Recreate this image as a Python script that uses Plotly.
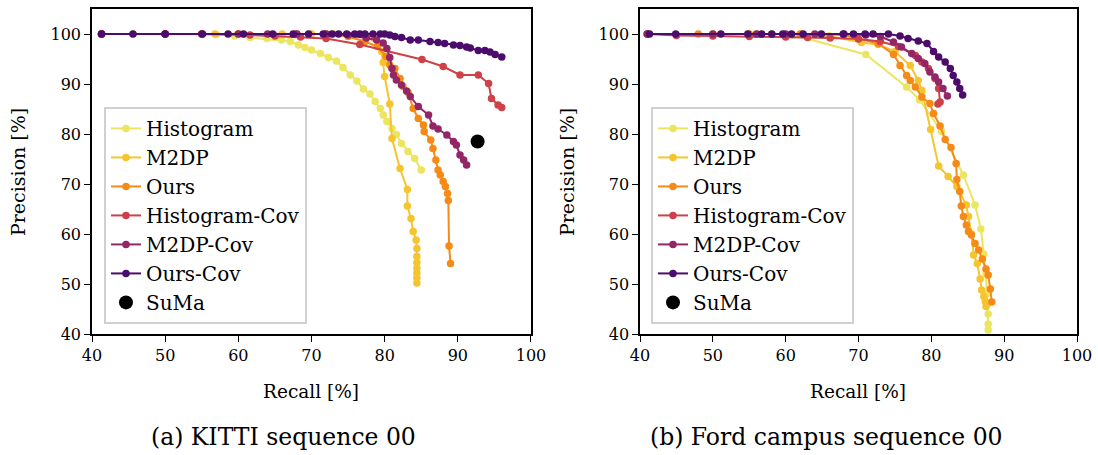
import plotly.graph_objects as go

# ---------------- data: KITTI sequence 00 ----------------
k_hist_x = [41.3, 45.6, 50, 55, 57, 59.5, 61.6, 63.9, 65.9, 67.1, 68.2, 69.1, 70.0, 71.2, 72.3, 73.4, 74.3, 75.3, 76.2, 77.1, 78.0, 78.7, 79.4, 79.8, 80.3, 81.0, 81.6, 82.3, 83.2, 84.1, 85.0]
k_hist_y = [100, 100, 100, 100, 99.9, 99.6, 99.3, 99.1, 98.8, 98.5, 97.8, 97.3, 96.8, 96.1, 95.3, 94.6, 93.3, 91.8, 90.6, 89.0, 88.0, 86.5, 85.1, 83.8, 82.5, 81.1, 79.9, 78.1, 76.5, 75.1, 72.8]

k_m2dp_x = [41.3, 50, 56.8, 60, 66, 70, 73, 76, 78.5, 79.6, 79.8, 80.0, 80.7, 81.0, 82.1, 83.1, 83.1, 83.6, 83.9, 84.3, 84.4, 84.4, 84.4, 84.4, 84.4, 84.4, 84.4]
k_m2dp_y = [100, 100, 100, 100, 100, 100, 100, 99.8, 99.2, 96.5, 94.3, 91.5, 86.0, 79.1, 73.1, 68.9, 65.6, 63.1, 60.5, 58.8, 57.1, 55.5, 54.3, 53.2, 52.2, 51.2, 50.2]

k_ours_x = [41.3, 50, 60, 68, 72, 75, 77.3, 79, 80.2, 80.7, 81.4, 82.1, 82.5, 83.2, 83.9, 84.6, 85.3, 85.4, 86.3, 86.6, 87.0, 87.3, 87.6, 88.0, 88.3, 88.6, 88.7, 88.8, 89.0]
k_ours_y = [100, 100, 100, 100, 100, 99.5, 98.5, 97.5, 95.5, 93.8, 93.1, 91.1, 89.5, 88.3, 85.1, 83.1, 81.8, 80.5, 78.8, 77.1, 74.8, 72.8, 71.8, 70.5, 69.5, 68.1, 66.7, 57.6, 54.1]

k_histcov_x = [41.3, 50, 55, 61.6, 65, 68.5, 72, 76.6, 85.1, 88.0, 90.3, 92.8, 94.2, 94.6, 95.5, 96.0]
k_histcov_y = [100, 100, 100, 99.8, 99.6, 99.4, 99.1, 97.9, 94.9, 93.5, 91.8, 91.8, 90.1, 87.1, 85.8, 85.3]

k_m2dpcov_x = [41.3, 50, 55, 60, 64, 68, 72, 75, 77.5, 78.9, 79.8, 80.3, 80.7, 81.0, 81.2, 81.6, 82.3, 83.0, 83.5, 84.6, 86.0, 86.6, 87.3, 88.5, 89.4, 89.8, 90.3, 90.8, 91.2]
k_m2dpcov_y = [100, 100, 100, 100, 100, 100, 100, 99.8, 99.2, 98.8, 98.2, 97.1, 95.3, 93.1, 91.8, 90.8, 89.8, 88.6, 87.5, 85.5, 83.8, 81.6, 81.0, 79.8, 78.5, 77.8, 75.8, 74.8, 73.8]

k_ourscov_x = [41.3, 45.6, 50.0, 55.1, 58.6, 60.7, 64.7, 67.5, 69.6, 71.6, 72.8, 73.7, 74.8, 75.9, 76.6, 77.3, 78.4, 79.4, 80.0, 80.7, 81.4, 82.3, 83.5, 84.6, 86.2, 87.3, 88.2, 89.4, 90.3, 91.2, 91.7, 92.8, 93.7, 94.4, 95.1, 96.0]
k_ourscov_y = [100, 100, 100, 100, 100, 100, 100, 100, 100, 100, 100, 100, 100, 100, 100, 100, 100, 100, 100, 99.8, 99.5, 99.3, 98.8, 98.8, 98.5, 98.3, 98.1, 97.8, 97.7, 97.4, 97.2, 96.7, 96.7, 96.4, 95.9, 95.4]

k_suma_x = [92.7]
k_suma_y = [78.5]

# ---------------- data: Ford campus sequence 00 ----------------
f_hist_x = [41.0, 50, 55, 58, 61.0, 71.0, 76.6, 78.4, 81.4, 84.4, 86.0, 86.8, 87.2, 87.5, 87.6, 87.7, 87.8, 87.8, 87.8]
f_hist_y = [100, 100, 100, 100, 99.8, 95.9, 89.4, 86.8, 80.5, 71.8, 65.8, 61.0, 56.0, 52.0, 48.0, 46.0, 44.0, 42.0, 40.8]

f_m2dp_x = [41.0, 50, 56, 62, 66, 70.4, 72.7, 75.0, 77.1, 78.2, 78.7, 79.9, 81.0, 82.3, 83.5, 84.8, 85.1, 85.5, 85.8, 86.3, 86.7, 86.9, 87.2, 87.4, 87.5]
f_m2dp_y = [100, 100, 100, 100, 99.6, 98.3, 97.9, 96.5, 93.7, 90.7, 88.7, 80.9, 73.6, 71.5, 69.5, 65.8, 63.5, 60.0, 55.8, 54.1, 51.0, 48.8, 47.5, 46.5, 45.5]

f_ours_x = [41.0, 48, 55, 62, 68, 72.7, 74.8, 75.7, 76.6, 77.1, 77.8, 78.7, 79.8, 80.3, 81.2, 81.9, 82.7, 83.4, 83.5, 83.9, 84.1, 84.4, 84.8, 85.1, 85.5, 86.0, 86.5, 87.0, 87.5, 87.8, 88.1, 88.3]
f_ours_y = [100, 100, 100, 100, 99.8, 98.1, 95.9, 93.7, 91.7, 90.7, 89.4, 87.4, 86.1, 84.1, 81.6, 78.9, 77.3, 74.1, 70.9, 68.5, 65.6, 63.5, 61.8, 60.5, 59.8, 58.1, 56.8, 55.0, 53.0, 51.8, 49.0, 46.4]

f_histcov_x = [41.0, 45, 50, 55, 60, 63, 66.1, 70, 73, 75.5, 77.8, 78.7, 79.6, 80.5, 81.0, 81.2, 80.9]
f_histcov_y = [100, 99.7, 99.6, 99.5, 99.4, 99.3, 99.2, 99.0, 98.5, 97.5, 95.7, 94.4, 93.1, 91.1, 89.1, 86.4, 86.0]

f_m2dpcov_x = [41.0, 50, 56, 60, 64, 68, 71, 73, 74.8, 75.9, 77.3, 78.2, 79.1, 79.8, 80.5, 81.0, 81.6, 82.2]
f_m2dpcov_y = [100, 100, 100, 100, 100, 100, 99.8, 99.5, 98.4, 97.4, 96.1, 95.1, 94.1, 92.4, 91.4, 90.4, 89.1, 87.6]

f_ourscov_x = [41.3, 44.9, 51.1, 54.8, 56.7, 58.1, 59.6, 60.8, 62.4, 64.9, 67.9, 69.3, 70.9, 72.0, 74.1, 75.7, 76.8, 78.2, 79.4, 80.3, 81.0, 81.9, 82.6, 83.0, 83.5, 83.9, 84.3]
f_ourscov_y = [100, 100, 100, 100, 100, 100, 100, 100, 100, 100, 100, 100, 100, 100, 100, 99.6, 99.1, 98.6, 98.1, 96.5, 95.4, 94.4, 93.1, 91.7, 90.4, 89.1, 87.8]

names = ["Histogram", "M2DP", "Ours", "Histogram-Cov", "M2DP-Cov", "Ours-Cov"]
colors = ["#ebe560", "#f6c42e", "#f58a17", "#cc4248", "#932667", "#4b0c6b"]

x_ticks = [40, 50, 60, 70, 80, 90, 100]
y_ticks = [40, 50, 60, 70, 80, 90, 100]

kitti = [(k_hist_x, k_hist_y), (k_m2dp_x, k_m2dp_y), (k_ours_x, k_ours_y),
         (k_histcov_x, k_histcov_y), (k_m2dpcov_x, k_m2dpcov_y), (k_ourscov_x, k_ourscov_y)]
ford = [(f_hist_x, f_hist_y), (f_m2dp_x, f_m2dp_y), (f_ours_x, f_ours_y),
        (f_histcov_x, f_histcov_y), (f_m2dpcov_x, f_m2dpcov_y), (f_ourscov_x, f_ourscov_y)]

FONT = "DejaVu Serif"
fig = go.Figure()

for panel, (data, xa, ya, leg) in enumerate([(kitti, "x", "y", "legend"), (ford, "x2", "y2", "legend2")]):
    for i, ((xs, ys), nm, c) in enumerate(zip(data, names, colors)):
        fig.add_trace(go.Scatter(
            x=xs, y=ys, mode="lines+markers", name=nm,
            line=dict(color=c, width=2), marker=dict(color=c, size=7.5),
            xaxis=xa, yaxis=ya, legend=leg, legendgroup=f"{panel}-{i}",
        ))
    sx = k_suma_x if panel == 0 else [None]
    sy = k_suma_y if panel == 0 else [None]
    fig.add_trace(go.Scatter(
        x=sx, y=sy, mode="markers", name="SuMa",
        marker=dict(color="black", size=14),
        xaxis=xa, yaxis=ya, legend=leg, legendgroup=f"{panel}-s",
    ))

axis_common = dict(
    showgrid=False, zeroline=False, showline=True, linecolor="black", linewidth=1.5,
    mirror=True, ticks="outside", ticklen=6, tickwidth=1.2, tickcolor="black",
    tickfont=dict(family=FONT, size=16, color="black"), automargin=False,
)

legend_common = dict(
    font=dict(family=FONT, size=20, color="black"),
    bgcolor="rgba(255,255,255,0.8)", bordercolor="#d0d0d0", borderwidth=2,
    xanchor="left", yanchor="top", tracegroupgap=0, itemsizing="trace",
    traceorder="grouped",
)

fig.update_layout(
    width=1098, height=455,
    margin=dict(l=0, r=0, t=0, b=0, pad=0, autoexpand=False),
    paper_bgcolor="white", plot_bgcolor="white",
    showlegend=True,
    xaxis=dict(domain=[0.0838, 0.4836], range=[40, 100], tickvals=x_ticks, anchor="y", **axis_common),
    yaxis=dict(domain=[0.2659, 0.9802], range=[40, 105], tickvals=y_ticks, anchor="x", **axis_common),
    xaxis2=dict(domain=[0.5829, 0.9809], range=[40, 100], tickvals=x_ticks, anchor="y2", **axis_common),
    yaxis2=dict(domain=[0.2659, 0.9802], range=[40, 105], tickvals=y_ticks, anchor="x2", **axis_common),
    legend=dict(x=0.0947, y=0.765, **legend_common),
    legend2=dict(x=0.5929, y=0.765, **legend_common),
)

annots = [
    dict(text="Recall [%]", x=311, y=391, size=18.5, angle=0),
    dict(text="Recall [%]", x=858, y=391, size=18.5, angle=0),
    dict(text="Precision [%]", x=18, y=172, size=19, angle=-90),
    dict(text="Precision [%]", x=567, y=172, size=19, angle=-90),
    dict(text="(a) KITTI sequence 00", x=283, y=437, size=23.5, angle=0),
    dict(text="(b) Ford campus sequence 00", x=826, y=437, size=23.5, angle=0),
]
for a in annots:
    fig.add_annotation(
        text=a["text"], x=a["x"] / 1098, y=1 - a["y"] / 455, xref="paper", yref="paper",
        xanchor="center", yanchor="middle", showarrow=False, textangle=a["angle"],
        font=dict(family=FONT, size=a["size"], color="black"),
    )

fig.write_html("out.html")
